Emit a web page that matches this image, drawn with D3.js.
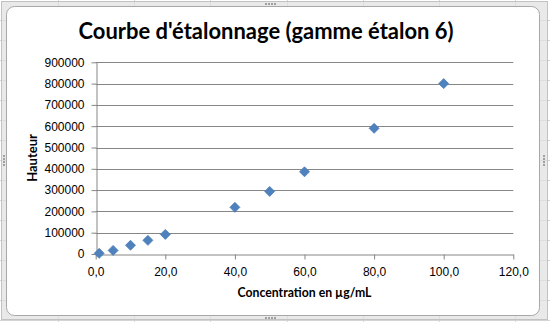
<!DOCTYPE html>
<html>
<head>
<meta charset="utf-8">
<script src="https://cdn.jsdelivr.net/npm/d3@7"></script>
<style>
  html, body { margin: 0; padding: 0; background: #fff; }
  svg { display: block; font-family: "Liberation Sans", Arial, sans-serif; }
</style>
</head>
<body>
<svg id="chart" width="550" height="322"></svg>
<script>
// Calibration series: concentration (µg/mL) vs peak height
const concentrations = [1, 5, 10, 15, 20, 40, 50, 60, 80, 100];
const hauteurs = [3000, 17000, 41000, 64000, 92000, 219000, 294000, 386000, 590000, 800000];
const xTicks = [0, 20, 40, 60, 80, 100, 120];
const yTicks = [0, 100000, 200000, 300000, 400000, 500000, 600000, 700000, 800000, 900000];
const chartTitle = "Courbe d'étalonnage (gamme étalon 6)";
const xTitle = "Concentration en µg/mL";
const yTitle = "Hauteur";

const W = 550, H = 322;
const margin = { left: 95.7, right: 36.7, top: 62.3, bottom: 68 };
const svg = d3.select("#chart");

// Worksheet cells behind the chart object
const sheet = svg.append("g");
for (let x = 58; x < W; x += 76.2) {
  sheet.append("line").attr("x1", Math.round(x) + 0.5).attr("x2", Math.round(x) + 0.5)
    .attr("y1", 0).attr("y2", H).attr("stroke", "#d4d4d4");
}
for (let y = 20; y < H; y += 20) {
  sheet.append("line").attr("y1", y + 0.5).attr("y2", y + 0.5)
    .attr("x1", 0).attr("x2", W).attr("stroke", "#d4d4d4");
}

// Selection frame of the chart object
svg.append("rect").attr("x", 1.5).attr("y", 1.5).attr("width", 546).attr("height", 318)
  .attr("fill", "rgba(225,225,225,0.75)").attr("stroke", "#c2c2c2");
svg.append("rect").attr("x", 6.5).attr("y", 6.5).attr("width", 533).attr("height", 309)
  .attr("rx", 8).attr("fill", "#fff").attr("stroke", "#a8a8a8");

// Frame handles
function handle(cx, cy, vertical) {
  for (let i = 0; i < 4; i++) {
    svg.append("rect")
      .attr("x", vertical ? cx - 1 : cx - 6 + i * 3)
      .attr("y", vertical ? cy - 6 + i * 3 : cy - 1)
      .attr("width", 2).attr("height", 2).attr("fill", "#a0a0a0");
  }
}
handle(271, 4, false);
handle(271, 318, false);
handle(4, 161, true);
handle(544, 161, true);

const x = d3.scaleLinear().domain([0, 120]).range([margin.left, W - margin.right]);
const y = d3.scaleLinear().domain([0, 900000]).range([H - margin.bottom, margin.top]);

// Horizontal gridlines
svg.append("g")
  .selectAll("line").data(yTicks.slice(1)).join("line")
  .attr("x1", x(0)).attr("x2", x(120))
  .attr("y1", d => Math.round(y(d)) + 0.5).attr("y2", d => Math.round(y(d)) + 0.5)
  .attr("stroke", "#868686").attr("stroke-width", 1);

const commaFmt = d => d3.format(".1f")(d).replace(".", ",");

// X axis
const gx = svg.append("g")
  .attr("transform", `translate(0,${Math.round(y(0)) + 0.5})`)
  .call(d3.axisBottom(x).tickValues(xTicks).tickFormat(commaFmt).tickSize(5).tickSizeOuter(0));
gx.select(".domain").attr("stroke", "#868686");
gx.selectAll(".tick line").attr("stroke", "#868686");
gx.selectAll(".tick text").attr("font-size", 12).attr("fill", "#000").attr("dy", "0.71em").attr("y", 13);

// Y axis
const gy = svg.append("g")
  .attr("transform", `translate(${Math.round(x(0)) + 0.5},0)`)
  .call(d3.axisLeft(y).tickValues(yTicks).tickFormat(d3.format("d")).tickSize(5).tickSizeOuter(0));
gy.select(".domain").attr("stroke", "#868686");
gy.selectAll(".tick line").attr("stroke", "#868686");
gy.selectAll(".tick text").attr("font-size", 12).attr("fill", "#000").attr("x", -12);

// Markers
const diamond = d3.symbol().type(d3.symbolSquare).size(50);
svg.append("g")
  .selectAll("path").data(concentrations.map((c, i) => [c, hauteurs[i]])).join("path")
  .attr("d", diamond)
  .attr("transform", d => `translate(${x(d[0])},${y(d[1])}) rotate(45)`)
  .attr("fill", "#4f81bd").attr("stroke", "#4a7ebb").attr("stroke-width", 0.75);

// Titles
svg.append("text").attr("x", 266).attr("y", 38.5).attr("text-anchor", "middle")
  .attr("font-family", "Lato, 'Open Sans', sans-serif")
  .attr("font-size", 23).attr("font-weight", "bold").attr("fill", "#000")
  .attr("textLength", 375).attr("lengthAdjust", "spacingAndGlyphs")
  .text(chartTitle);

svg.append("text").attr("x", 304.5).attr("y", 297).attr("text-anchor", "middle")
  .attr("font-family", "Lato, 'Open Sans', sans-serif")
  .attr("font-size", 13).attr("font-weight", "bold").attr("fill", "#000")
  .attr("textLength", 134).attr("lengthAdjust", "spacingAndGlyphs")
  .text(xTitle);

svg.append("text").attr("transform", `translate(37,158) rotate(-90)`).attr("text-anchor", "middle")
  .attr("font-family", "Lato, 'Open Sans', sans-serif")
  .attr("font-size", 13).attr("font-weight", "bold").attr("fill", "#000")
  .text(yTitle);
</script>
</body>
</html>
